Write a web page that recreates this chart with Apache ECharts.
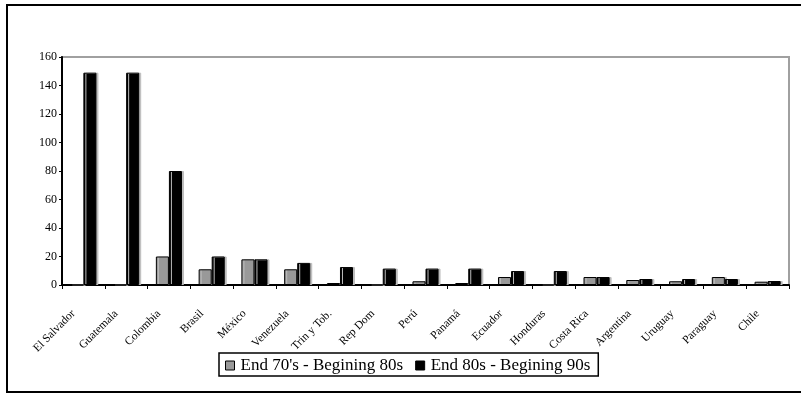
<!DOCTYPE html>
<html>
<head>
<meta charset="utf-8">
<script src="https://cdn.jsdelivr.net/npm/echarts@6/dist/echarts.min.js"></script>
<style>
  html, body { margin: 0; padding: 0; background: #fff; }
  #chart { width: 801px; height: 394px; }
</style>
</head>
<body>
<div id="chart"></div>
<script>
// Countries along the category axis
const countries = ['El Salvador', 'Guatemala', 'Colombia', 'Brasil', 'México', 'Venezuela',
  'Trin y Tob.', 'Rep Dom', 'Perú', 'Panamá', 'Ecuador', 'Honduras', 'Costa Rica',
  'Argentina', 'Uruguay', 'Paraguay', 'Chile'];

// Series names
const seriesNames = ["End 70's - Begining 80s", 'End 80s - Begining 90s'];

// Values per period
const period1 = [0, 0, 20, 11, 18, 11, 1.4, 0, 2.6, 1.4, 5.6, 0, 5.6, 3.5, 2.6, 5.6, 2.3];
const period2 = [149, 149, 80, 20, 18, 15.5, 12.6, 11.5, 11.5, 11.5, 9.8, 9.8, 5.6, 4.2, 4.2, 4.2, 2.8];

// Value axis ticks
const yTicks = { min: 0, max: 160, interval: 20 };

const serif = '"Liberation Serif", "DejaVu Serif", serif';

const chart = echarts.init(document.getElementById('chart'), null, { renderer: 'canvas' });

const barShadow = { shadowColor: '#bdbdbd', shadowOffsetX: 2, shadowOffsetY: 0, shadowBlur: 0 };

chart.setOption({
  animation: false,
  backgroundColor: '#fff',
  graphic: [{
    type: 'rect',
    shape: { x: 7, y: 5, width: 820, height: 387 },
    style: { fill: 'none', stroke: '#000', lineWidth: 2 },
    silent: true
  }],
  grid: {
    left: 62, top: 57, right: 12, bottom: 109,
    show: true, borderColor: '#a0a0a0', borderWidth: 2, backgroundColor: '#fff'
  },
  legend: {
    data: seriesNames,
    left: 219, top: 353,
    icon: 'rect',
    itemWidth: 9, itemHeight: 9,
    itemGap: 12,
    padding: [4, 8, 2, 6],
    borderColor: '#000', borderWidth: 1.5,
    backgroundColor: '#fff',
    itemStyle: { borderColor: '#000', borderWidth: 1 },
    textStyle: { fontFamily: serif, fontSize: 17, color: '#000', padding: [8, 0, 0, 1] }
  },
  xAxis: {
    type: 'category',
    data: countries,
    axisLine: { lineStyle: { color: '#000', width: 2 } },
    axisTick: { show: true, length: 4, lineStyle: { color: '#000' } },
    axisLabel: {
      rotate: 45, interval: 0, margin: 17,
      padding: [0, 14, 0, 0],
      fontFamily: serif, fontSize: 11.5, color: '#000'
    }
  },
  yAxis: {
    type: 'value',
    min: yTicks.min, max: yTicks.max, interval: yTicks.interval,
    axisLine: { show: true, lineStyle: { color: '#000', width: 2 } },
    axisTick: { show: true, length: 3, lineStyle: { color: '#000' } },
    splitLine: { show: false },
    axisLabel: { fontFamily: serif, fontSize: 12, color: '#000', margin: 5 }
  },
  series: [
    {
      name: seriesNames[0], type: 'bar', data: period1,
      barGap: '0%', barCategoryGap: '39%',
      itemStyle: Object.assign({ color: '#999999', borderColor: '#000', borderWidth: 1 }, barShadow)
    },
    {
      name: seriesNames[1], type: 'bar', data: period2,
      barGap: '0%', barCategoryGap: '39%',
      itemStyle: Object.assign({ color: '#000', borderColor: '#000', borderWidth: 1 }, barShadow)
    }
  ]
});
</script>
</body>
</html>
